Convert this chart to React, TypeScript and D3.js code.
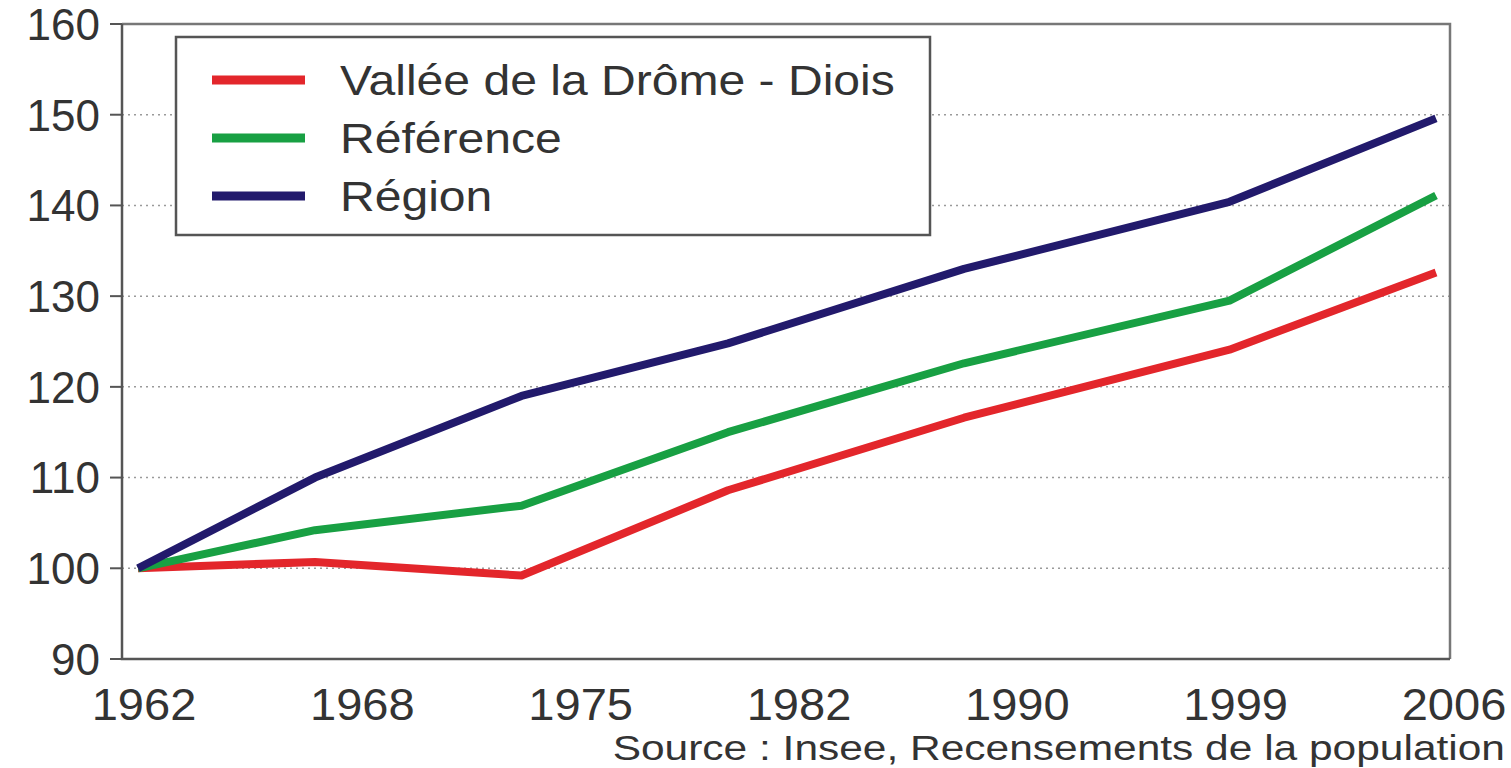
import * as d3 from "d3";

const years = [1962, 1968, 1975, 1982, 1990, 1999, 2006];
const yearLabels = ["1962", "1968", "1975", "1982", "1990", "1999", "2006"];
const yTicks = [90, 100, 110, 120, 130, 140, 150, 160];

const vallee = [100, 100.7, 99.2, 108.6, 116.6, 124.1, 132.6];
const reference = [100, 104.2, 106.9, 115, 122.6, 129.5, 141.1];
const region = [100, 110, 119, 124.8, 133, 140.4, 149.6];

const seriesNames = ["Vallée de la Drôme - Diois", "Référence", "Région"];
const seriesColors = ["#e3262b", "#18a043", "#221a6c"];
const sourceText = "Source : Insee, Recensements de la population";

const width = 1511;
const height = 768;
const font = "'Liberation Sans', Arial, sans-serif";

export default function App() {
  const left = 122;
  const right = 1450;
  const top = 24;
  const bottom = 659;

  const x = d3.scaleLinear().domain([1962, 2006]).range([138, 1436]);
  const xLabel = d3.scalePoint<string>().domain(yearLabels).range([144, 1454]);
  const y = d3.scaleLinear().domain([90, 160]).range([bottom, top]);

  const line = d3
    .line<number>()
    .x((_, i) => x(years[i]))
    .y((d) => y(d));

  const allSeries = [vallee, reference, region];

  return (
    <svg
      width={width}
      height={height}
      viewBox={`0 0 ${width} ${height}`}
      style={{ position: "absolute", left: 0, top: 0, background: "#fff" }}
      fontFamily={font}
    >
      {/* gridlines */}
      {yTicks
        .filter((t) => t > 90 && t < 160)
        .map((t) => (
          <line
            key={`g${t}`}
            x1={left}
            x2={right}
            y1={y(t)}
            y2={y(t)}
            stroke="#9a9a9a"
            strokeWidth={1.5}
            strokeDasharray="2,4"
          />
        ))}

      {/* frame */}
      <path
        d={`M${left},${top}H${right}V${bottom}`}
        fill="none"
        stroke="#777"
        strokeWidth={2.5}
      />
      <path
        d={`M${left},${top}V${bottom}H${right}`}
        fill="none"
        stroke="#555"
        strokeWidth={2.5}
      />

      {/* y ticks & labels */}
      {yTicks.map((t) => (
        <g key={`y${t}`}>
          <line x1={left - 12} x2={left} y1={y(t)} y2={y(t)} stroke="#555" strokeWidth={2} />
          <text
            x={100}
            y={y(t)}
            dy="0.36em"
            textAnchor="end"
            fontSize={44}
            fill="#333"
          >
            {t}
          </text>
        </g>
      ))}

      {/* x labels */}
      {yearLabels.map((l) => (
        <g key={l} transform={`translate(${xLabel(l)},720) scale(1.07,1)`}>
          <text x={0} y={0} textAnchor="middle" fontSize={44} fill="#333">
            {l}
          </text>
        </g>
      ))}

      {/* series */}
      {allSeries.map((s, i) => (
        <path
          key={seriesNames[i]}
          d={line(s)!}
          fill="none"
          stroke={seriesColors[i]}
          strokeWidth={8}
          strokeLinejoin="round"
        />
      ))}

      {/* legend */}
      <rect x={176} y={37} width={754} height={198} fill="#fff" stroke="#555" strokeWidth={2.5} />
      {seriesNames.map((n, i) => (
        <g key={`l${n}`} transform={`translate(0,${80 + i * 58})`}>
          <line x1={212} x2={305} y1={0} y2={0} stroke={seriesColors[i]} strokeWidth={9} />
          <g transform="translate(340,0) scale(1.145,1)">
            <text x={0} y={0} dy="0.36em" fontSize={42} fill="#333">
              {n}
            </text>
          </g>
        </g>
      ))}

      <g transform="translate(1505,760) scale(1.18,1)">
        <text x={0} y={0} textAnchor="end" fontSize={36} fill="#333">
          {sourceText}
        </text>
      </g>
    </svg>
  );
}
